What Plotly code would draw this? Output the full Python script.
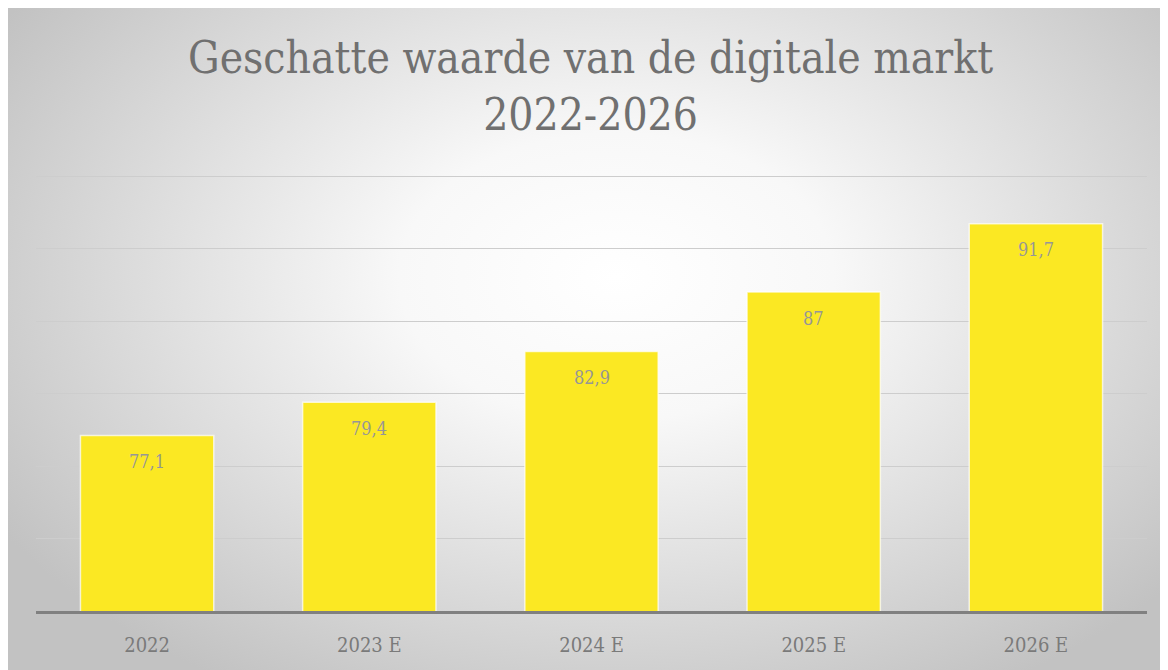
import base64
import plotly.graph_objects as go

categories = ["2022", "2023 E", "2024 E", "2025 E", "2026 E"]
values = [77.1, 79.4, 82.9, 87.0, 91.7]
y_min, y_max, y_step = 65, 95, 5
title_lines = ["Geschatte waarde van de digitale markt", "2022-2026"]

# page has 8px body margin, so the figure is drawn at (8, 8)
W, H = 1160, 662
ml, mr, mt, mb = 28, 21, 161, 59
pw, ph = W - ml - mr, H - mt - mb
grid_px = 435  # pixel height from y_min to y_max
y_top = y_min + (y_max - y_min) * ph / grid_px

svg = f'''<svg xmlns="http://www.w3.org/2000/svg" width="{W}" height="{H}" viewBox="0 0 {W} {H}" preserveAspectRatio="none">
<defs><radialGradient id="g" cx="52%" cy="40%" r="62%" gradientTransform="translate(0.52,0.40) scale(1,1.15) translate(-0.52,-0.40)">
<stop offset="0%" stop-color="#ffffff"/><stop offset="30%" stop-color="#f8f8f8"/>
<stop offset="100%" stop-color="#c2c2c2"/></radialGradient></defs>
<rect x="0" y="0" width="{W}" height="{H}" fill="url(#g)"/></svg>'''
src = "data:image/svg+xml;base64," + base64.b64encode(svg.encode()).decode()

fig = go.Figure(go.Bar(
    x=categories, y=values,
    marker=dict(color="#fbe823", line=dict(color="rgba(255,255,255,0.7)", width=1.5)),
    hoverinfo="skip",
))

for i, v in enumerate(values):
    txt = (f"{v:g}").replace(".", ",")
    fig.add_annotation(x=i, y=v, text=txt, showarrow=False, yanchor="middle",
                       yshift=-26, font=dict(family="DejaVu Serif Condensed", size=18, color="#969696"))

fig.add_annotation(xref="paper", yref="paper", x=(582 - ml) / pw, y=1 + (mt - 78) / ph,
                   xanchor="center", yanchor="middle", showarrow=False,
                   text="<br>".join(title_lines),
                   font=dict(family="DejaVu Serif Condensed", size=44, color="#707070"))

fig.add_layout_image(dict(
    source=src, xref="paper", yref="paper",
    x=-ml / pw, y=1 + mt / ph,
    sizex=(W + 10) / pw, sizey=(H + 10) / ph,
    sizing="stretch", layer="below", xanchor="left", yanchor="top",
))

fig.update_layout(
    width=W, height=H,
    margin=dict(l=ml, r=mr, t=mt, b=mb),
    paper_bgcolor="white", plot_bgcolor="rgba(0,0,0,0)",
    bargap=0.4, showlegend=False,
    xaxis=dict(type="category", range=[-0.5, len(categories) - 0.5],
               showline=True, linecolor="#808080", linewidth=3, ticks="",
               ticklabelstandoff=14,
               tickfont=dict(family="DejaVu Serif Condensed", size=20, color="#7a7a7a"),
               showgrid=False),
    yaxis=dict(range=[y_min, y_top], dtick=y_step, tick0=y_min, showticklabels=False,
               gridcolor="#cdcdcd", gridwidth=1.2, zeroline=False, showline=False),
)

fig.write_html("out.html")
